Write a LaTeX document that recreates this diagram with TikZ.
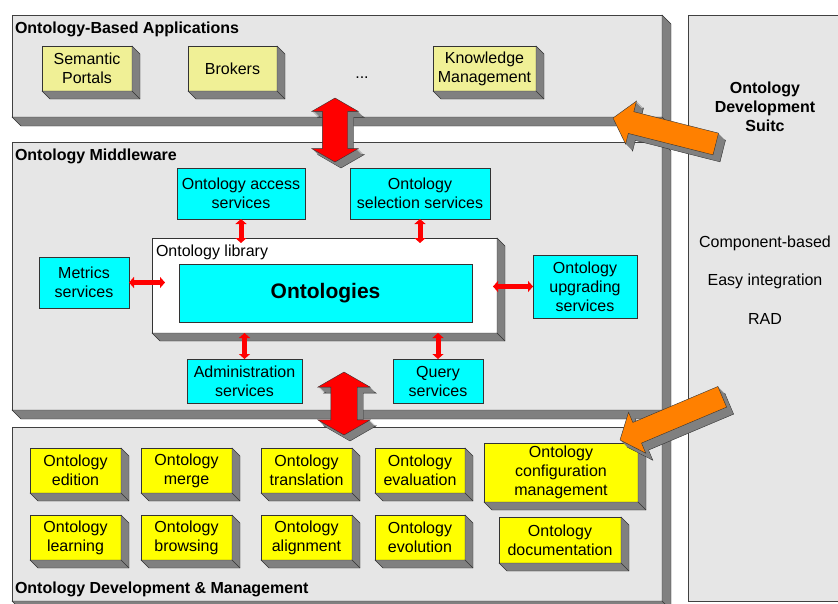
\documentclass[tikz,border=0pt]{standalone}
\usepackage{fontspec}
\setmainfont{Liberation Sans}
\usetikzlibrary{positioning, calc, arrows.meta,
shapes.arrows % for the big red and orange arrows
}
\definecolor{panelgrey}{RGB}{230,230,230}
\definecolor{sidegrey}{RGB}{128,128,128}
\definecolor{appkhaki}{RGB}{240,240,150}
\definecolor{srvcyan}{RGB}{0,255,255}
\definecolor{devyellow}{RGB}{255,255,0}
\definecolor{suiteorange}{RGB}{255,128,0}
\definecolor{linkred}{RGB}{255,0,0}
\tikzset{%
  every node/.style={outer sep=0pt, font=\fontsize{16}{19}\selectfont},
  panel/.style={draw=black!75, fill=panelgrey, anchor=north west, inner sep=0pt},
  paneltitle/.style={anchor=base west, inner sep=0pt, font=\bfseries\fontsize{16}{19}\selectfont},
  box/.style={draw=black!80, align=center, inner sep=0pt},
  appbox/.style={box, fill=appkhaki, minimum height=45pt},
  srvbox/.style={box, fill=srvcyan},
  devbox/.style={box, fill=devyellow, minimum width=91pt, minimum height=45pt},
  link/.style={draw=linkred, line width=5pt, >={Triangle[length=5pt,width=11pt]}, <->},
  bigarrow/.style={double arrow, fill=linkred, draw=black!80, inner xsep=0pt, double arrow tip angle=120, rotate=90},
  suitearrow/.style={single arrow, fill=suiteorange, draw=black!80, anchor=tip, inner xsep=0pt, inner ysep=11pt, single arrow head extend=11pt, single arrow tip angle=100}
}
% grey side and bottom faces of a raised box
\newcommand{\extrude}[2][8]{%
  \filldraw[fill=sidegrey, draw=black!80] (#2.north east) -- ++(#1,#1) -- ($(#2.south east)+(#1,#1)$) -- ($(#2.south west)+(#1,#1)$) -- (#2.south west) -- (#2.south east) -- cycle;
  \draw[black!80] (#2.south east) -- ++(#1,#1);
}
\begin{document}
\begin{tikzpicture}[x=1pt, y=-1pt]
\clip (0,0) rectangle (838,603);
\fill[white] (0,0) rectangle (838,603);

% panels
\node[panel, minimum width=160pt, minimum height=586pt] (suite) at (688,15) {};
\node[panel, minimum width=650pt, minimum height=102pt] (apps) at (12,15) {};
\node[panel, minimum width=650pt, minimum height=268pt] (mw) at (12,142) {};
\node[panel, minimum width=650pt, minimum height=174pt] (odm) at (12,427) {};
\foreach \p in {apps, mw, odm} {\extrude[9]{\p}}
\node[paneltitle] (appstitle) at (15,33) {Ontology-Based Applications};
\node[paneltitle] (mwtitle) at (15,160) {Ontology Middleware};
\node[paneltitle] (odmtitle) at (15,593) {Ontology Development \& Management};
\node[align=center, font=\bfseries\fontsize{16}{19}\selectfont] (suitetitle) at (765,107) {Ontology\\Development\\Suitc};
\node[anchor=base] (comp) at (765,247) {Component-based};
\node[anchor=base] (easy) at (765,285) {Easy integration};
\node[anchor=base] (rad) at (765,324) {RAD};

% applications
\node[appbox, minimum width=90pt] (portals) at (87,68.5) {Semantic\\Portals};
\node[appbox, minimum width=89pt] (brokers) at (232.5,68.5) {Brokers};
\node[anchor=base] (more) at (362,78) {...};
\node[appbox, minimum width=103pt] (km) at (484.5,68.5) {Knowledge\\Management};
\foreach \b in {portals, brokers, km} {\extrude{\b}}

% middleware
\node[srvbox, minimum width=128pt, minimum height=51pt] (access) at (241,193.5) {Ontology access\\services};
\node[srvbox, minimum width=140pt, minimum height=51pt] (selection) at (420,193.5) {Ontology\\selection services};
\node[draw=black!80, fill=white, minimum width=345pt, minimum height=95pt] (library) at (324.5,285.5) {};
\extrude{library}
\node[anchor=base west, inner sep=0pt] (libtitle) at (156,256) {Ontology library};
\node[srvbox, minimum width=293pt, minimum height=58pt, font=\bfseries\fontsize{21}{25}\selectfont] (ontologies) at (325.5,293) {Ontologies};
\node[srvbox, minimum width=90pt, minimum height=51pt] (metrics) at (84,282.5) {Metrics\\services};
\node[srvbox, minimum width=104pt, minimum height=63pt] (upgrading) at (585,286.5) {Ontology\\upgrading\\services};
\node[srvbox, minimum width=115pt, minimum height=44pt] (admin) at (244.5,381) {Administration\\services};
\node[srvbox, minimum width=90pt, minimum height=44pt] (query) at (438,381) {Query\\services};
\draw[link] (access) -- ($(access |- library.north)+(0,5)$);
\draw[link] (selection) -- ($(selection |- library.north)+(0,5)$);
\draw[link] (metrics) -- ($(library.west |- metrics)+(13,0)$);
\draw[link] (upgrading) -- ($(library.east |- upgrading)+(-4,0)$);
\draw[link] (library.south -| admin) -- (admin);
\draw[link] (library.south -| query) -- (query);

% development & management
\node[devbox] (edition) at (75.5,470.5) {Ontology\\edition};
\node[devbox, right=20pt of edition] (merge) {Ontology\\merge};
\node[devbox, right=29pt of merge] (translation) {Ontology\\translation};
\node[devbox, right=23pt of translation, minimum width=90pt] (evaluation) {Ontology\\evaluation};
\node[devbox, below=22pt of edition] (learning) {Ontology\\learning};
\node[devbox, below=22pt of merge] (browsing) {Ontology\\browsing};
\node[devbox, below=22pt of translation] (alignment) {Ontology\\alignment};
\node[devbox, below=22pt of evaluation, minimum width=90pt] (evolution) {Ontology\\evolution};
\node[devbox, minimum width=154pt, minimum height=59pt] (config) at (561,472.5) {Ontology\\configuration\\management};
\node[devbox, minimum width=122pt, minimum height=46pt] (documentation) at (560,540) {Ontology\\documentation};
\foreach \b in {edition, merge, translation, evaluation, learning, browsing, alignment, evolution, config, documentation} {\extrude{\b}}

% red arrows between the layers
\coordinate (appsmw) at (335,130);
\coordinate (mwodm) at (344,403.5);
\node[bigarrow, fill=sidegrey, minimum height=64pt, inner ysep=12.5pt, double arrow head extend=10.5pt] (appsmwside) at ($(appsmw)+(6,6)$) {};
\foreach \k in {5,...,1}
  {\node[bigarrow, fill=sidegrey, draw=none, minimum height=64pt, inner ysep=12.5pt, double arrow head extend=10.5pt] (appsmwside\k) at ($(appsmw)+(\k,\k)$) {};}
\node[bigarrow, minimum height=64pt, inner ysep=12.5pt, double arrow head extend=10.5pt] (appsmwarrow) at (appsmw) {};
\node[bigarrow, fill=sidegrey, minimum height=63pt, inner ysep=13pt, double arrow head extend=13pt] (mwodmside) at ($(mwodm)+(6,6)$) {};
\foreach \k in {5,...,1}
  {\node[bigarrow, fill=sidegrey, draw=none, minimum height=63pt, inner ysep=13pt, double arrow head extend=13pt] (mwodmside\k) at ($(mwodm)+(\k,\k)$) {};}
\node[bigarrow, minimum height=63pt, inner ysep=13pt, double arrow head extend=13pt] (mwodmarrow) at (mwodm) {};

% orange arrows from the suite
\coordinate (suitetipA) at (613,118);
\coordinate (suitetipB) at (620,440);
\node[suitearrow, fill=sidegrey, minimum height=106pt, rotate=165.8] (suiteAside) at ($(suitetipA)+(7,7)$) {};
\foreach \k in {6,...,1}
  {\node[suitearrow, fill=sidegrey, draw=none, minimum height=106pt, rotate=165.8] (suiteAside\k) at ($(suitetipA)+(\k,\k)$) {};}
\node[suitearrow, minimum height=106pt, rotate=165.8] (suiteA) at (suitetipA) {};
\node[suitearrow, fill=sidegrey, minimum height=111pt, rotate=202.9] (suiteBside) at ($(suitetipB)+(7,7)$) {};
\foreach \k in {6,...,1}
  {\node[suitearrow, fill=sidegrey, draw=none, minimum height=111pt, rotate=202.9] (suiteBside\k) at ($(suitetipB)+(\k,\k)$) {};}
\node[suitearrow, minimum height=111pt, rotate=202.9] (suiteB) at (suitetipB) {};

\end{tikzpicture}
\end{document}
